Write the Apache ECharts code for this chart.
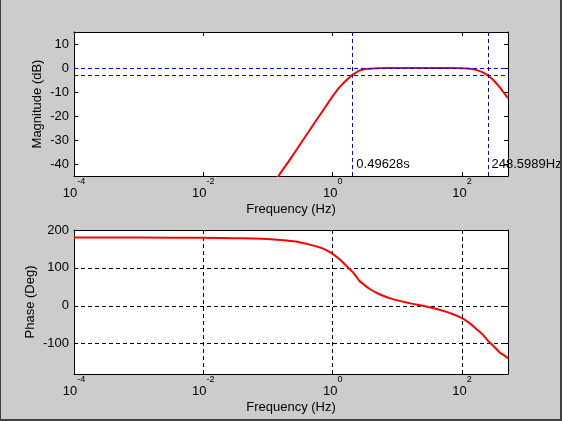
<!DOCTYPE html>
<html>
<head>
<meta charset="utf-8">
<script src="https://cdn.jsdelivr.net/npm/echarts@6/dist/echarts.min.js"></script>
<style>
html,body{margin:0;padding:0;background:#cccccc;}
#chart{position:absolute;left:0;top:0;width:562px;height:421px;}
#frame{position:absolute;left:0;top:0;width:562px;height:421px;box-sizing:border-box;border-left:1px solid #404040;border-right:2px solid #404040;border-bottom:2px solid #404040;pointer-events:none;}
</style>
</head>
<body>
<div id="chart"></div>
<div id="frame"></div>
<script>
// ---- data ----
const FREQ_MAG = [0.1, 0.1455, 0.213, 0.343, 0.553, 0.889, 1.27, 1.6, 1.97, 2.3, 2.59, 3.0, 3.7, 5, 10, 50, 100, 132, 170, 210, 248.6, 300, 380, 450, 515];
const MAG_DB   = [-52, -45, -38.6, -30.3, -22, -13.8, -8.1, -5.3, -3.1, -1.9, -1.1, -0.6, -0.3, -0.1, 0, 0, -0.1, -0.3, -0.9, -1.8, -3, -4.8, -7.9, -10.5, -12.6];
const FREQ_PH  = [0.0001, 0.001, 0.01, 0.03, 0.082, 0.2, 0.271, 0.45, 0.622, 0.8, 1, 1.2, 1.4, 1.71, 2.015, 2.3, 2.59, 3.0, 3.7, 5.3, 8.5, 15.4, 28, 50.7, 70, 100, 130, 167, 210, 251, 300, 384, 450, 515];
const PHASE_DEG= [180, 180, 179.5, 178.5, 177, 172, 169.5, 161, 154.5, 147, 137, 127, 117, 102, 90, 78, 66, 57, 45, 30.5, 17.6, 7, -2, -13, -21, -32.4, -45, -61, -76, -92, -104, -123, -131, -138];
const X_TICK_EXP = [-4, -2, 0, 2];
const MAG_TICKS = [-40, -30, -20, -10, 0, 10];
const PH_TICKS  = [-100, 0, 100, 200];
const REF_DB = [0, -3];
const F_LOW = 1 / 0.49628;
const F_HIGH = 248.5989;
const F_LOW_LABEL = '0.49628s';
const F_HIGH_LABEL = '248.5989Hz';
const LABEL_DB = -40;
const X_MIN_HZ = 0.0001, X_MAX_HZ = 515;
const MAG_RANGE = [-45, 15];
const PH_RANGE = [-180, 200];

const FONT = 'Liberation Sans, Arial, sans-serif';
const lg = Math.log10;
const magData = FREQ_MAG.map((f, i) => [lg(f), MAG_DB[i]]);
const phData = FREQ_PH.map((f, i) => [lg(f), PHASE_DEG[i]]);

function xAxisMain(gridIndex) {
  return {
    type: 'value', gridIndex, position: 'bottom',
    min: lg(X_MIN_HZ), max: lg(X_MAX_HZ), interval: 2,
    name: 'Frequency (Hz)', nameLocation: 'middle', nameGap: 27, nameMoveOverlap: false,
    nameTextStyle: {color: '#000', fontSize: 13, fontFamily: FONT},
    axisLine: {show: true, onZero: false, lineStyle: {color: '#000', width: 1}},
    axisTick: {show: true, inside: true, length: 4, lineStyle: {color: '#000'}, customValues: X_TICK_EXP},
    axisLabel: {
      show: true, margin: 1, customValues: X_TICK_EXP, color: '#000', fontFamily: FONT,
      formatter: v => '{b|10}{s|' + v + '}',
      rich: {
        b: {fontSize: 13, lineHeight: 32, verticalAlign: 'middle', color: '#000', fontFamily: FONT},
        s: {fontSize: 9, lineHeight: 12, verticalAlign: 'top', color: '#000', fontFamily: FONT}
      }
    },
    splitLine: {show: gridIndex === 1, lineStyle: {color: '#000', type: [4, 3], width: 1}}
  };
}
function xAxisTop(gridIndex) {
  return {
    type: 'value', gridIndex, position: 'top',
    min: lg(X_MIN_HZ), max: lg(X_MAX_HZ), interval: 2,
    axisLine: {show: true, onZero: false, lineStyle: {color: '#000', width: 1}},
    axisTick: {show: true, inside: true, length: 4, lineStyle: {color: '#000'}, customValues: X_TICK_EXP},
    axisLabel: {show: false}, splitLine: {show: false}
  };
}
function yAxisMain(gridIndex, range, ticks, name, gap, grid) {
  return {
    type: 'value', gridIndex, position: 'left', min: range[0], max: range[1],
    name, nameLocation: 'middle', nameGap: gap, nameMoveOverlap: false,
    nameTextStyle: {color: '#000', fontSize: 13, fontFamily: FONT},
    axisLine: {show: true, onZero: false, lineStyle: {color: '#000', width: 1}},
    axisTick: {show: true, inside: true, length: 4, lineStyle: {color: '#000'}, customValues: ticks},
    axisLabel: {show: true, margin: 5, customValues: ticks, color: '#000', fontSize: 13, fontFamily: FONT},
    splitLine: {show: grid, lineStyle: {color: '#000', type: [4, 3], width: 1}}
  };
}
function yAxisRight(gridIndex, range, ticks) {
  return {
    type: 'value', gridIndex, position: 'right', min: range[0], max: range[1],
    axisLine: {show: true, onZero: false, lineStyle: {color: '#000', width: 1}},
    axisTick: {show: true, inside: true, length: 4, lineStyle: {color: '#000'}, customValues: ticks},
    axisLabel: {show: false}, splitLine: {show: false}
  };
}

const chart = echarts.init(document.getElementById('chart'), null, {renderer: 'canvas'});
chart.setOption({
  animation: false,
  backgroundColor: '#cccccc',
  textStyle: {fontFamily: FONT},
  grid: [
    {left: 74, top: 32, right: 54, height: 144, backgroundColor: '#ffffff', show: true, borderWidth: 0},
    {left: 74, top: 230, right: 54, height: 144, backgroundColor: '#ffffff', show: true, borderWidth: 0}
  ],
  xAxis: [xAxisMain(0), xAxisTop(0), xAxisMain(1), xAxisTop(1)],
  yAxis: [
    yAxisMain(0, MAG_RANGE, MAG_TICKS, 'Magnitude (dB)', 30, false),
    yAxisRight(0, MAG_RANGE, MAG_TICKS),
    yAxisMain(1, PH_RANGE, PH_TICKS, 'Phase (Deg)', 37, true),
    yAxisRight(1, PH_RANGE, PH_TICKS)
  ],
  series: [
    {
      type: 'line', xAxisIndex: 0, yAxisIndex: 0, data: magData,
      showSymbol: false, symbol: 'none', clip: true, smooth: 0.15,
      lineStyle: {color: '#ff0000', width: 2}, itemStyle: {color: '#ff0000'},
      markLine: {
        silent: true, symbol: ['none', 'none'], label: {show: false},
        lineStyle: {color: '#0000ff', type: [4, 3], width: 1},
        data: REF_DB.map(v => ({yAxis: v})).concat([{xAxis: lg(F_LOW)}, {xAxis: lg(F_HIGH)}])
      },
      markPoint: {
        silent: true, symbol: 'circle', symbolSize: 0,
        label: {show: true, position: 'right', distance: 4, color: '#000', fontSize: 13, fontFamily: FONT, formatter: '{b}'},
        data: [
          {name: F_LOW_LABEL, coord: [lg(F_LOW), LABEL_DB]},
          {name: F_HIGH_LABEL, coord: [lg(F_HIGH), LABEL_DB]}
        ]
      }
    },
    {
      type: 'line', xAxisIndex: 2, yAxisIndex: 2, data: phData,
      showSymbol: false, symbol: 'none', clip: true, smooth: 0.3,
      lineStyle: {color: '#ff0000', width: 2}, itemStyle: {color: '#ff0000'}
    }
  ]
});
</script>
</body>
</html>
